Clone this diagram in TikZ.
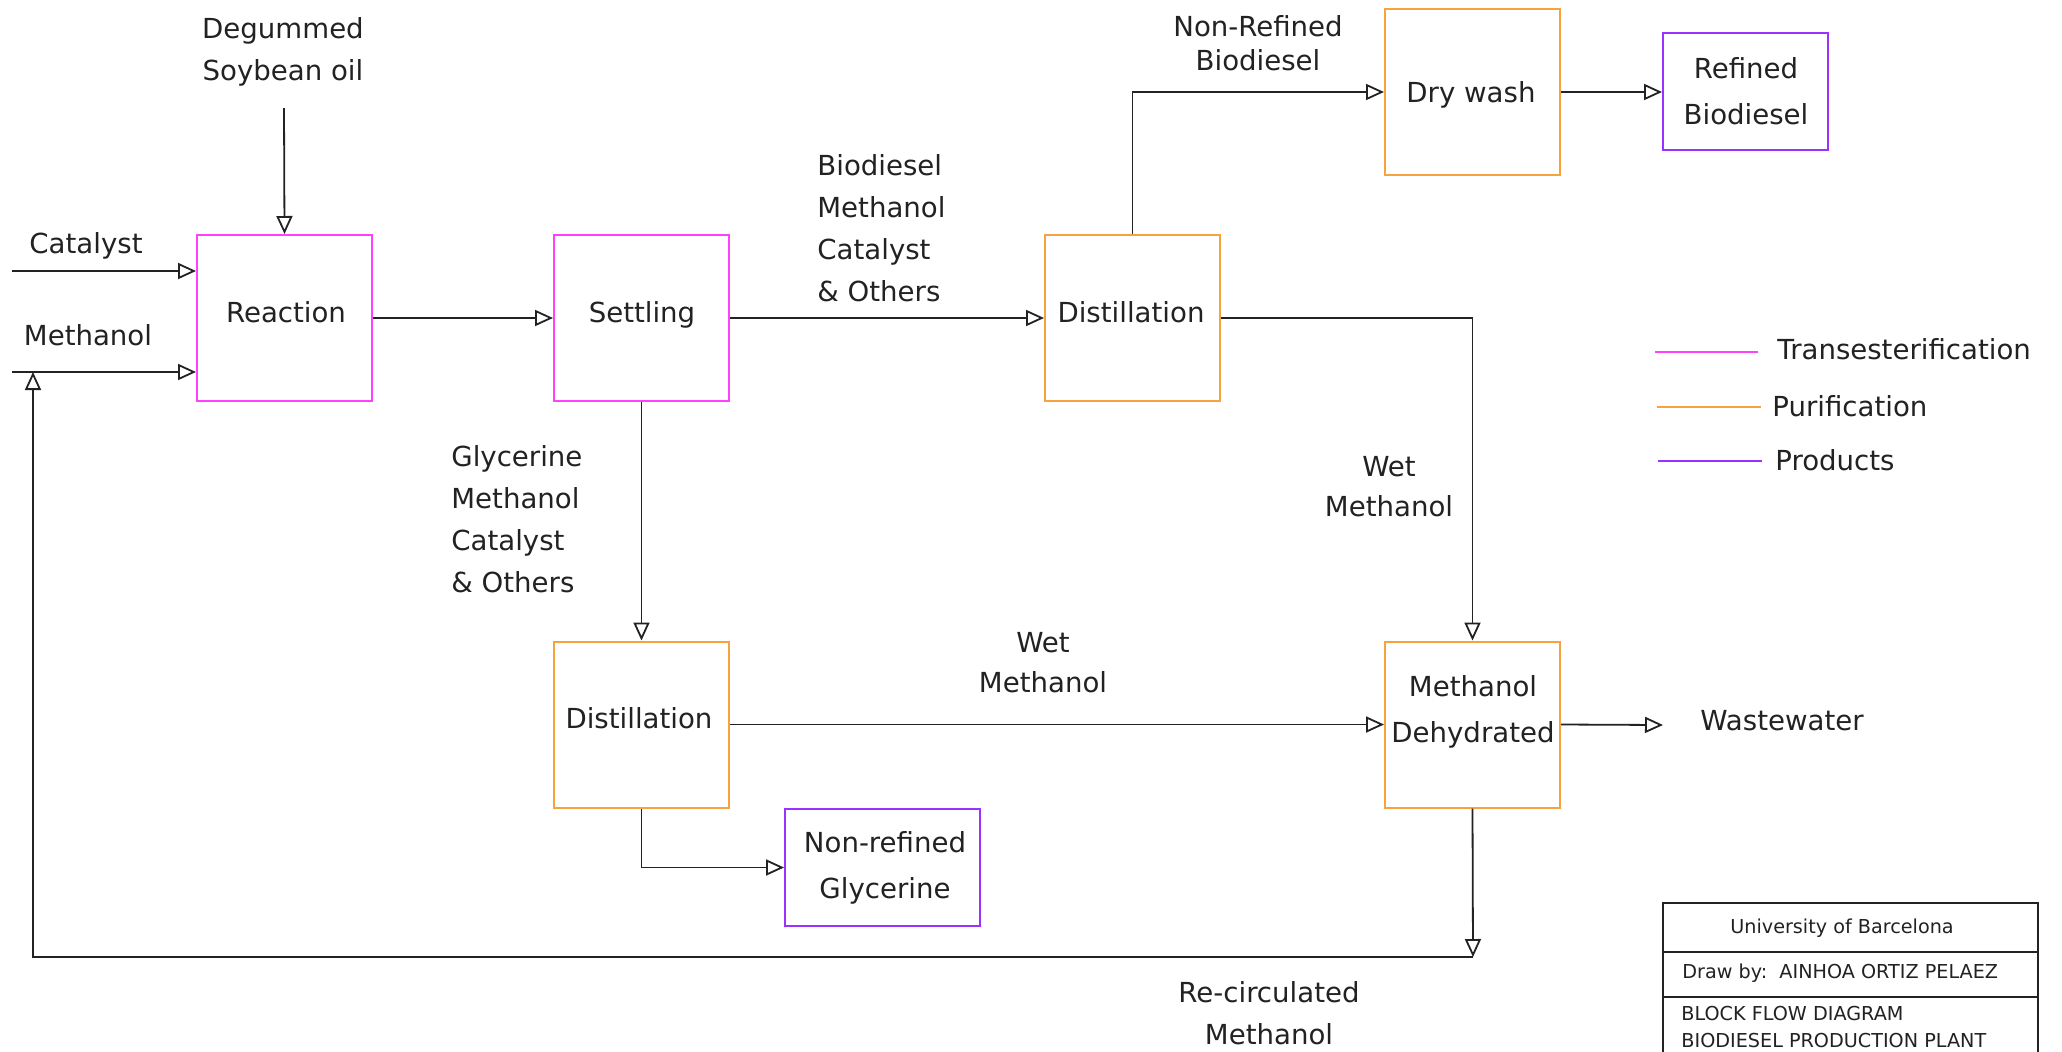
\documentclass[tikz,border=0pt]{standalone}
\usepackage{fontspec}
\setmainfont{DejaVu Sans}
\usetikzlibrary{arrows.meta}
\definecolor{transcol}{RGB}{255,64,255}
\definecolor{purcol}{RGB}{247,163,61}
\definecolor{prodcol}{RGB}{155,48,255}
\definecolor{inkcol}{RGB}{34,34,34}
\begin{document}
\begin{tikzpicture}[x=0.5pt,y=-0.5pt,
  unitbox/.style={draw, line width=1pt, inner sep=0pt, minimum width=87.5pt, minimum height=83pt},
  prodbox/.style={draw, line width=1pt, inner sep=0pt, minimum height=58.5pt},
  flow/.style={draw=inkcol, line width=0.9pt, -{Triangle[open, length=9pt, width=8pt]}},
  rule/.style={draw=inkcol, line width=0.9pt},
  txt/.style={text=inkcol, font=\fontsize{13.8}{23}\selectfont, inner sep=0pt, align=center},
  side/.style={text=inkcol, font=\fontsize{13.8}{21}\selectfont, inner sep=0pt},
  small/.style={text=inkcol, font=\fontsize{9.6}{13}\selectfont, inner sep=0pt},
  key/.style={line width=1pt}]
\useasboundingbox (0,0) rectangle (2062,1051);
\fill[white] (0,0) rectangle (2062,1051);

% process units
\node[unitbox, draw=transcol] (reac)   at (284.5,318) {};
\node[unitbox, draw=transcol] (settle) at (641.5,318) {};
\node[unitbox, draw=purcol]   (dist1)  at (1132.5,318) {};
\node[unitbox, draw=purcol]   (dry)    at (1472.5,92) {};
\node[unitbox, draw=purcol]   (dist2)  at (641.5,724.5) {};
\node[unitbox, draw=purcol]   (mdh)    at (1472.5,724.5) {};
\node[prodbox, draw=prodcol, minimum width=82.5pt] (ref) at (1745.5,91.5) {};
\node[prodbox, draw=prodcol, minimum width=97.5pt] (nrg) at (882.5,867.5) {};

% unit captions
\node[txt] at (286,312) {Reaction};
\node[txt] at (642,315) {Settling};
\node[txt] at (1131,312) {Distillation};
\node[txt] at (1471,95) {Dry wash};
\node[txt] at (1746,91) {Refined\\Biodiesel};
\node[txt] at (639,718) {Distillation};
\node[txt] at (1473,712) {Methanol\\Dehydrated};
\node[txt] at (885,868) {Non-refined\\Glycerine};

% free stream ends
\coordinate (oilin)  at (284,108);
\coordinate (catin)  at (12,271);
\coordinate (methin) at (12,372);
\coordinate (wwend)  at (1663,725);
\coordinate (rcturn) at (1473,957);
\coordinate (rcleft) at (33,957);

% streams
\draw[flow] (oilin) -- (reac.north);
\draw[flow] (catin) -- (catin -| reac.west);
\draw[flow] (methin) -- (methin -| reac.west);
\draw[flow] (reac.east) -- (settle.west);
\draw[flow] (settle.east) -- (dist1.west);
\draw[flow] (dist1.north) |- (dry.west);
\draw[flow] (dry.east) -- (dry.east -| ref.west);
\draw[flow] (dist1.east) -| (mdh.north);
\draw[flow] (settle.south) -- (dist2.north);
\draw[flow] (dist2.east) -- (mdh.west);
\draw[flow] (dist2.south) |- (nrg.west);
\draw[flow] (mdh.east) -- (wwend);
\draw[flow] (mdh.south) -- (rcturn);
\draw[flow] (rcturn) -- (rcleft) -- (rcleft |- methin);

% stream labels
\node[side, align=center] at (283,52) {Degummed\\Soybean oil};
\node[side] at (86,246) {Catalyst};
\node[side] at (88,335) {Methanol};
\node[side, align=left, anchor=west] at (817,228) {Biodiesel\\Methanol\\Catalyst\\\& Others};
\node[side, align=center, font=\fontsize{13.8}{17}\selectfont] at (1258,43) {Non-Refined\\Biodiesel};
\node[side, align=center, font=\fontsize{13.8}{20}\selectfont] at (1389,487) {Wet\\Methanol};
\node[side, align=left, anchor=west] at (451,519) {Glycerine\\Methanol\\Catalyst\\\& Others};
\node[side, align=center, font=\fontsize{13.8}{20}\selectfont] at (1043,663) {Wet\\Methanol};
\node[side, anchor=west] at (1700,721) {Wastewater};
\node[side, align=center] at (1269,1013) {Re-circulated\\Methanol};

% legend
\coordinate (k1a) at (1655,352); \coordinate (k1b) at (1758,352);
\coordinate (k2a) at (1657,407); \coordinate (k2b) at (1761,407);
\coordinate (k3a) at (1658,461); \coordinate (k3b) at (1762,461);
\draw[key, transcol] (k1a) -- (k1b);
\draw[key, purcol] (k2a) -- (k2b);
\draw[key, prodcol] (k3a) -- (k3b);
\node[side, anchor=west] at (1777,349) {Transesterification};
\node[side, anchor=west] at (1772,406) {Purification};
\node[side, anchor=west] at (1775,460) {Products};

% title block
\draw[rule] (1663,1060) -- (1663,903) -- (2038,903) -- (2038,1060);
\draw[rule] (1663,952) -- (2038,952);
\draw[rule] (1663,997) -- (2038,997);
\node[small] at (1842,928) {University of Barcelona};
\node[small, anchor=west] at (1682,973) {Draw by:\ \ AINHOA ORTIZ PELAEZ};
\node[small, anchor=west] at (1681,1013) {BLOCK FLOW DIAGRAM};
\node[small, anchor=west] at (1681,1040) {BIODIESEL PRODUCTION PLANT};
\end{tikzpicture}
\end{document}
